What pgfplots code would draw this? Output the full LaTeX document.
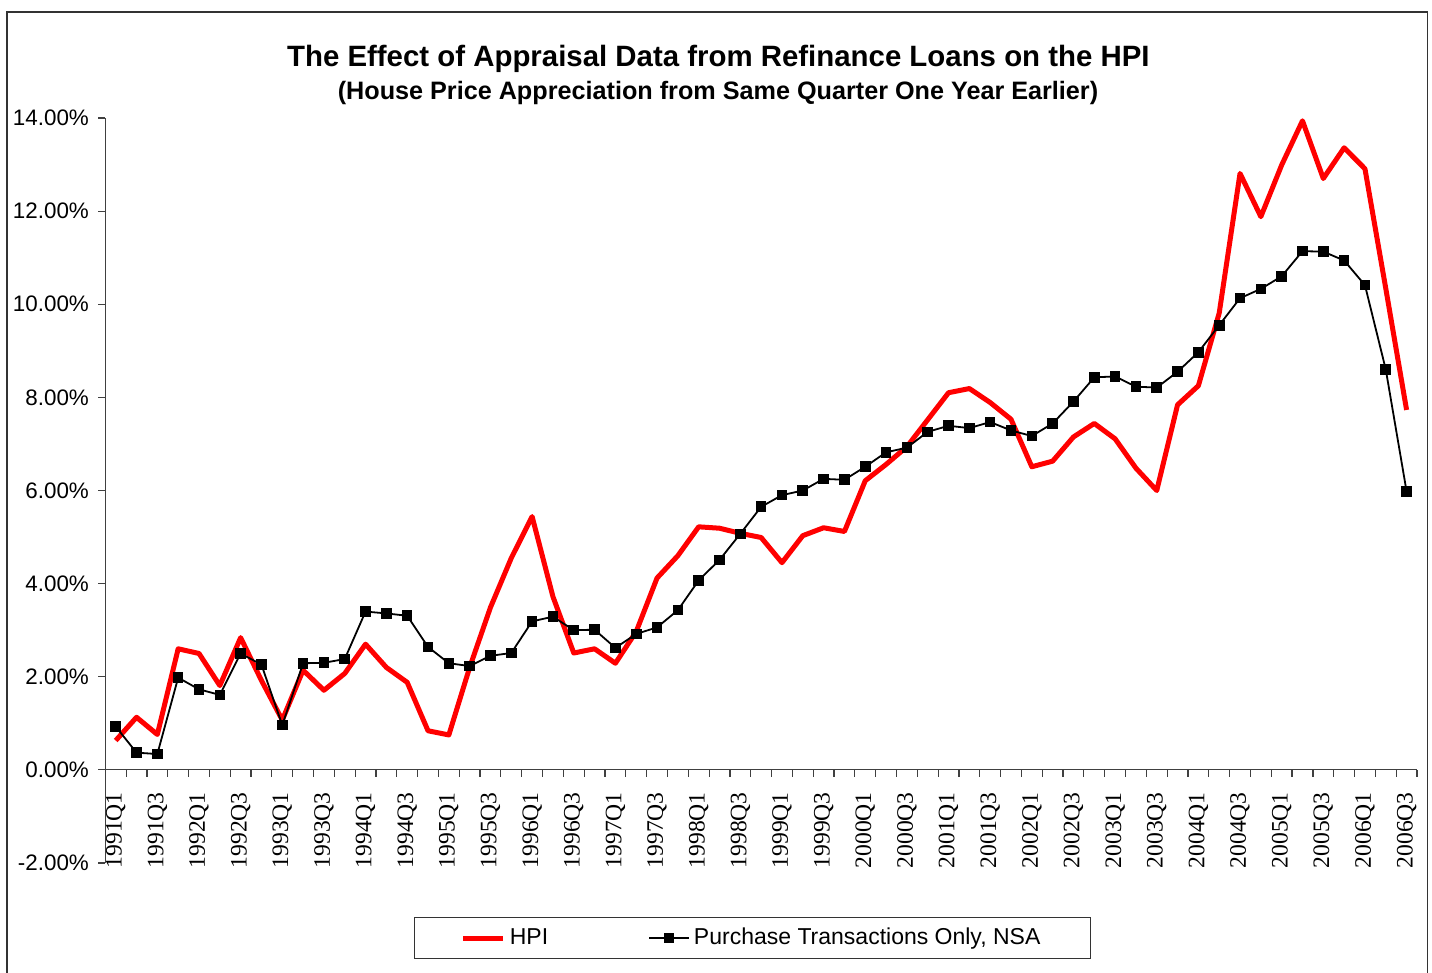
\documentclass[border=0pt]{standalone}
\usepackage{pgfplots}
\pgfplotsset{compat=1.18}
\usepackage{fontspec}
\setmainfont{Liberation Sans}
\newfontfamily\timesfont{Liberation Serif}
\newcommand{\T}{\timesfont\fontsize{11.8}{12}\selectfont}
\pgfplotstableread{
i hpi pur
0 0.63 0.93
1 1.13 0.37
2 0.76 0.34
3 2.60 1.98
4 2.50 1.73
5 1.81 1.61
6 2.84 2.50
7 1.92 2.26
8 1.07 0.96
9 2.14 2.29
10 1.71 2.30
11 2.07 2.38
12 2.70 3.40
13 2.20 3.36
14 1.88 3.31
15 0.84 2.64
16 0.75 2.29
17 2.20 2.23
18 3.49 2.45
19 4.55 2.51
20 5.44 3.19
21 3.72 3.29
22 2.51 3.00
23 2.60 3.01
24 2.29 2.62
25 2.97 2.92
26 4.12 3.06
27 4.60 3.43
28 5.22 4.07
29 5.19 4.51
30 5.08 5.07
31 4.99 5.65
32 4.45 5.90
33 5.03 6.00
34 5.20 6.25
35 5.12 6.23
36 6.21 6.51
37 6.56 6.82
38 6.94 6.92
39 7.52 7.26
40 8.10 7.39
41 8.19 7.34
42 7.89 7.47
43 7.53 7.29
44 6.51 7.17
45 6.63 7.44
46 7.15 7.91
47 7.44 8.43
48 7.11 8.45
49 6.48 8.23
50 6.00 8.21
51 7.84 8.55
52 8.25 8.97
53 9.81 9.55
54 12.81 10.13
55 11.88 10.33
56 12.99 10.60
57 13.94 11.14
58 12.70 11.13
59 13.36 10.94
60 12.91 10.41
61 10.34 8.60
62 7.73 5.98
}\datatable
\begin{document}
\begin{tikzpicture}
\path[use as bounding box] (0,0) rectangle (716pt,-486.5pt);
\draw[line width=0.8pt, black!80] (3.5pt,-500pt) -- (3.5pt,-6pt) -- (713.8pt,-6pt) -- (713.8pt,-500pt);
\node[anchor=base, font=\bfseries\fontsize{14.7}{16}\selectfont] at (359.2pt,-33.5pt) {The Effect of Appraisal Data from Refinance Loans on the HPI};
\node[anchor=base, font=\bfseries\fontsize{12.6}{14}\selectfont] at (359pt,-49.7pt) {(House Price Appreciation from Same Quarter One Year Earlier)};
\begin{axis}[
  at={(52.65pt,-431.5pt)}, anchor=south west,
  scale only axis, width=655.85pt, height=372.5pt,
  xmin=-0.5, xmax=62.5, ymin=-2, ymax=14,
  axis x line=middle, axis y line=left,
  x axis line style={-, line width=0.6pt, black!75},
  y axis line style={-, line width=0.6pt, black!75},
  hide obscured x ticks=false, hide obscured y ticks=false,
  tick align=outside,
  major tick length=3.5pt, minor tick length=3.5pt,
  tick style={line width=0.6pt, black!75},
  xtick={0,2,...,62},
  every major x tick/.append style={draw=none},
  minor xtick={-0.5,0.5,...,62.5},
  xticklabels={\T 1991Q1,\T 1991Q3,\T 1992Q1,\T 1992Q3,\T 1993Q1,\T 1993Q3,\T 1994Q1,\T 1994Q3,\T 1995Q1,\T 1995Q3,\T 1996Q1,\T 1996Q3,\T 1997Q1,\T 1997Q3,\T 1998Q1,\T 1998Q3,\T 1999Q1,\T 1999Q3,\T 2000Q1,\T 2000Q3,\T 2001Q1,\T 2001Q3,\T 2002Q1,\T 2002Q3,\T 2003Q1,\T 2003Q3,\T 2004Q1,\T 2004Q3,\T 2005Q1,\T 2005Q3,\T 2006Q1,\T 2006Q3},
  xticklabel style={rotate=90, anchor=east, inner sep=0pt, xshift=-7.5pt},
  ytick={-2,0,...,14},
  yticklabels={-2.00\%,0.00\%,2.00\%,4.00\%,6.00\%,8.00\%,10.00\%,12.00\%,14.00\%},
  yticklabel style={font=\fontsize{11.2}{12}\selectfont, inner sep=0pt, xshift=-4.5pt},
  legend columns=2,
  legend style={at={(0.4935,-0.1007)}, anchor=center, draw=black!80, line width=0.6pt,
    font=\fontsize{11.5}{12}\selectfont, inner xsep=23pt, inner ysep=3.5pt,
    /tikz/every even column/.append style={column sep=48pt}},
  legend image code/.code={\draw[mark repeat=2,mark phase=2,#1] plot coordinates {(0pt,0pt) (10pt,0pt) (20pt,0pt)};},
  clip=false,
]
\addplot[red, line width=2.5pt, line join=round] table[x=i, y=hpi] {\datatable};
\addlegendentry{HPI}
\addplot[black, line width=0.9pt, mark=square*, mark size=2.2pt, mark options={solid, fill=black}] table[x=i, y=pur] {\datatable};
\addlegendentry{Purchase Transactions Only, NSA}
\end{axis}
\end{tikzpicture}
\end{document}
